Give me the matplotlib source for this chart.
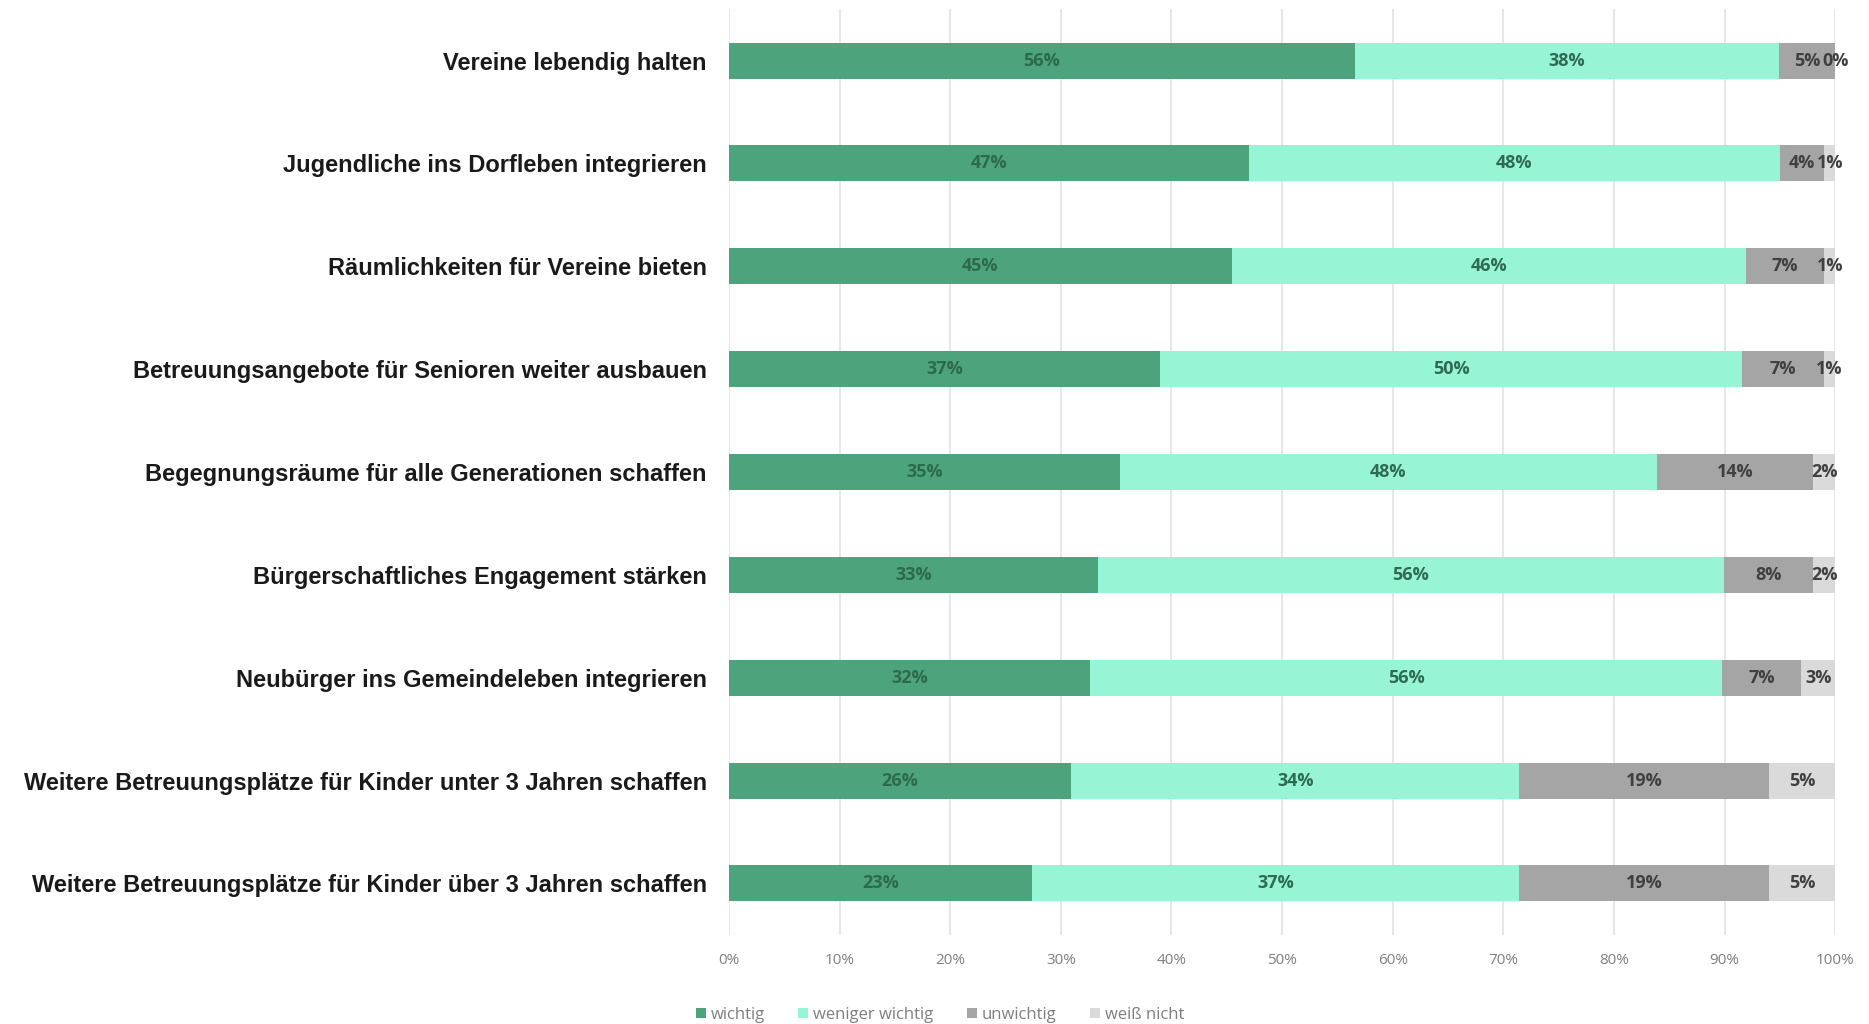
import matplotlib.pyplot as plt
import numpy as np

categories = [
    "Vereine lebendig halten",
    "Jugendliche ins Dorfleben integrieren",
    "Räumlichkeiten für Vereine bieten",
    "Betreuungsangebote für Senioren weiter ausbauen",
    "Begegnungsräume für alle Generationen schaffen",
    "Bürgerschaftliches Engagement stärken",
    "Neubürger ins Gemeindeleben integrieren",
    "Weitere Betreuungsplätze für Kinder unter 3 Jahren schaffen",
    "Weitere Betreuungsplätze für Kinder über 3 Jahren schaffen",
]
wichtig = [56, 47, 45, 37, 35, 33, 32, 26, 23]
weniger_wichtig = [38, 48, 46, 50, 48, 56, 56, 34, 37]
unwichtig = [5, 4, 7, 7, 14, 8, 7, 19, 19]
weiss_nicht = [0, 1, 1, 1, 2, 2, 3, 5, 5]

series = ["wichtig", "weniger wichtig", "unwichtig", "weiß nicht"]
colors = ["#4da47c", "#97f5d6", "#a5a5a5", "#dadada"]
text_colors = ["#2d6a4b", "#2f6a52", "#404040", "#404040"]

data = np.array([wichtig, weniger_wichtig, unwichtig, weiss_nicht], dtype=float)
shares = data / data.sum(axis=0) * 100

fig = plt.figure(figsize=(18.69, 10.24), dpi=100)
ax = fig.add_axes([0.390, 0.087, 0.592, 0.904])

y = np.arange(len(categories))
left = np.zeros(len(categories))
for i, name in enumerate(series):
    ax.barh(y, shares[i], left=left, height=0.35, color=colors[i], label=name, zorder=2)
    for j in range(len(categories)):
        ax.text(left[j] + shares[i][j] / 2, y[j], f"{int(data[i][j])}%",
                ha="center", va="center", fontsize=13, fontweight="bold",
                color=text_colors[i], family="Open Sans", zorder=3)
    left += shares[i]

ax.set_xlim(0, 100)
ax.set_ylim(len(categories) - 0.5, -0.5)
ax.set_xticks(np.arange(0, 101, 10))
ax.set_xticklabels([f"{v}%" for v in range(0, 101, 10)], color="#7f7f7f",
                   fontsize=11, family="Open Sans")
ax.set_yticks(y)
ax.set_yticklabels(categories, fontsize=17, fontweight="bold",
                   family="Liberation Sans", color="#1a1a1a")
ax.tick_params(axis="both", length=0)
ax.tick_params(axis="y", pad=16)
ax.tick_params(axis="x", pad=13)
ax.grid(axis="x", color="#e3e3e3", linewidth=1.2, zorder=0)
for s in ax.spines.values():
    s.set_visible(False)

fig.legend(loc="center", bbox_to_anchor=(0.503, 0.009), ncol=4, frameon=False,
           handlelength=0.6, handleheight=0.6, handletextpad=0.3, columnspacing=2.0,
           prop={"family": "Open Sans", "size": 12}, labelcolor="#7f7f7f")

fig.savefig("out.png", dpi=100, facecolor="white")
